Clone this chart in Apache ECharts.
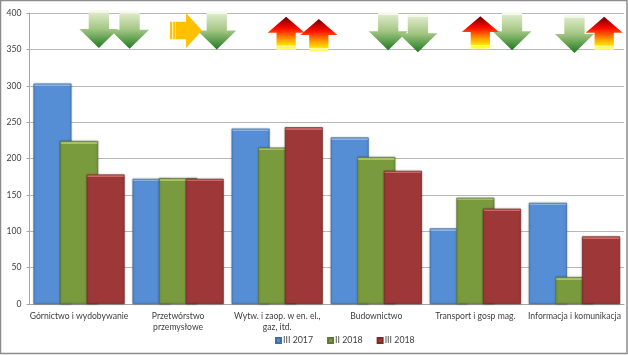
<!DOCTYPE html>
<html>
<head>
<meta charset="utf-8">
<style>
  html, body { margin: 0; padding: 0; background: #fff; }
  #chart { width: 628px; height: 355px; }
</style>
<script src="https://cdn.jsdelivr.net/npm/echarts@6/dist/echarts.min.js"></script>
</head>
<body>
<div id="chart"></div>
<script>
const categories = ['Górnictwo i wydobywanie', 'Przetwórstwo\nprzemysłowe', 'Wytw. i zaop. w en. el.,\ngaz, itd.', 'Budownictwo', 'Transport i gosp mag.', 'Informacja i komunikacja'];
const seriesNames = ['III 2017', 'II 2018', 'III 2018'];
const iii2017 = [303, 172, 241, 229, 104, 139];
const ii2018 = [224, 173, 215, 202, 146, 37];
const iii2018 = [178, 172, 243, 183, 131, 93];
const yTicks = [0, 50, 100, 150, 200, 250, 300, 350, 400];

// trend arrows, [position along the categories (0-6), value]
const arrowsDown = [[0.70, 378], [1.01, 377], [1.89, 376], [3.62, 375], [3.92, 372], [4.87, 375], [5.50, 371]];
const arrowsUp = [[2.59, 372], [2.92, 369], [4.55, 373], [5.80, 372]];
const arrowsRight = [[1.58, 376]];

const chart = echarts.init(document.getElementById('chart'));

// 3d look of the bars: light strip on top, flat body under it
const pxPerUnit = 291 / 400;
function barData(values, light, body) {
  return values.map(v => {
    const strip = 2.5 / (v * pxPerUnit);
    return {
      value: v,
      itemStyle: {
        color: {
          type: 'linear', x: 0, y: 0, x2: 0, y2: 1,
          colorStops: [
            { offset: 0, color: light },
            { offset: strip, color: light },
            { offset: strip, color: body },
            { offset: 1, color: body }
          ]
        }
      }
    };
  });
}

function barSeries(name, values, light, body, edge) {
  return {
    name: name,
    type: 'bar',
    barGap: '-30%',
    barCategoryGap: '8%',
    data: barData(values, light, body),
    itemStyle: {
      color: body,
      borderColor: edge,
      borderWidth: 0.7,
      shadowColor: 'rgba(0,0,0,0.3)',
      shadowBlur: 2
    }
  };
}

const greenFade = {
  type: 'linear', x: 0, y: 0, x2: 0, y2: 1,
  colorStops: [
    { offset: 0, color: '#f4f9ec' },
    { offset: 0.06, color: '#f4f9ec' },
    { offset: 0.08, color: '#dbe9c6' },
    { offset: 0.5, color: '#a3c682' },
    { offset: 1, color: '#1f7a20' }
  ]
};
const redFade = {
  type: 'linear', x: 0, y: 0, x2: 0, y2: 1,
  colorStops: [
    { offset: 0, color: '#6e0000' },
    { offset: 0.35, color: '#ff0a00' },
    { offset: 0.7, color: '#ffa500' },
    { offset: 0.86, color: '#ffe100' },
    { offset: 0.88, color: '#fffbd0' },
    { offset: 0.92, color: '#ffff30' },
    { offset: 1, color: '#fffbb0' }
  ]
};
const yellowFade = {
  type: 'linear', x: 0, y: 0, x2: 1, y2: 0,
  colorStops: [
    { offset: 0, color: '#ffc000' },
    { offset: 0.05, color: '#ffc000' },
    { offset: 0.06, color: '#fff0b0' },
    { offset: 0.1, color: '#fff0b0' },
    { offset: 0.11, color: '#ffc000' },
    { offset: 0.15, color: '#ffc000' },
    { offset: 0.16, color: '#ffe680' },
    { offset: 0.18, color: '#ffe680' },
    { offset: 0.19, color: '#ffc000' },
    { offset: 1, color: '#ffc000' }
  ]
};

function arrowSeries(data, path, size, fill) {
  return {
    type: 'scatter',
    xAxisIndex: 1,
    data: data,
    symbol: path,
    symbolSize: size,
    symbolKeepAspect: false,
    itemStyle: { color: fill, opacity: 1 },
    silent: true,
    z: 5
  };
}

const option = {
  animation: false,
  backgroundColor: '#fff',
  grid: { left: 29.5, right: 4, top: 13, bottom: 51 },
  legend: {
    data: seriesNames,
    left: 270,
    top: 331,
    icon: 'rect',
    itemWidth: 5,
    itemHeight: 5,
    itemGap: 14,
    textStyle: { fontFamily: 'Lato', fontSize: 8.8, color: '#404040', padding: [0, 0, 0, -3] }
  },
  xAxis: [
    {
      type: 'category',
      data: categories,
      axisLine: { lineStyle: { color: '#a6a6a6' } },
      axisTick: { length: 3, lineStyle: { color: '#a6a6a6' } },
      axisLabel: { interval: 0, margin: 7, lineHeight: 11, fontFamily: 'Lato', fontSize: 8.6, color: '#404040' }
    },
    { type: 'value', min: 0, max: 6, show: false }
  ],
  yAxis: {
    type: 'value',
    min: yTicks[0],
    max: yTicks[yTicks.length - 1],
    interval: 50,
    axisLine: { show: true, lineStyle: { color: '#a6a6a6' } },
    axisTick: { show: true, length: 3, lineStyle: { color: '#a6a6a6' } },
    axisLabel: { margin: 8, fontFamily: 'Lato', fontSize: 8.6, color: '#404040' },
    splitLine: { lineStyle: { color: '#b8b8b8', width: 1 } }
  },
  series: [
    barSeries(seriesNames[0], iii2017, '#8db8ec', '#558ed5', '#3f6ea8'),
    barSeries(seriesNames[1], ii2018, '#a9c66a', '#7a9a3e', '#5f7a2e'),
    barSeries(seriesNames[2], iii2018, '#d46a68', '#9e3838', '#7c2a2a'),
    arrowSeries(arrowsDown, 'path://M24,0 L76,0 L76,50 L100,50 L50,100 L0,50 L24,50 Z', [39, 38], greenFade),
    arrowSeries(arrowsUp, 'path://M50,0 L100,48 L76,48 L76,100 L24,100 L24,48 L0,48 Z', [37, 33], redFade),
    arrowSeries(arrowsRight, 'path://M0,25 L50,25 L50,0 L100,50 L50,100 L50,75 L0,75 Z', [32, 35], yellowFade)
  ],
  graphic: [{
    type: 'rect',
    shape: { x: 0.5, y: 0.5, width: 626.5, height: 353 },
    style: { fill: 'none', stroke: '#8c8c8c', lineWidth: 1.5 },
    silent: true
  }]
};

chart.setOption(option);
</script>
</body>
</html>
